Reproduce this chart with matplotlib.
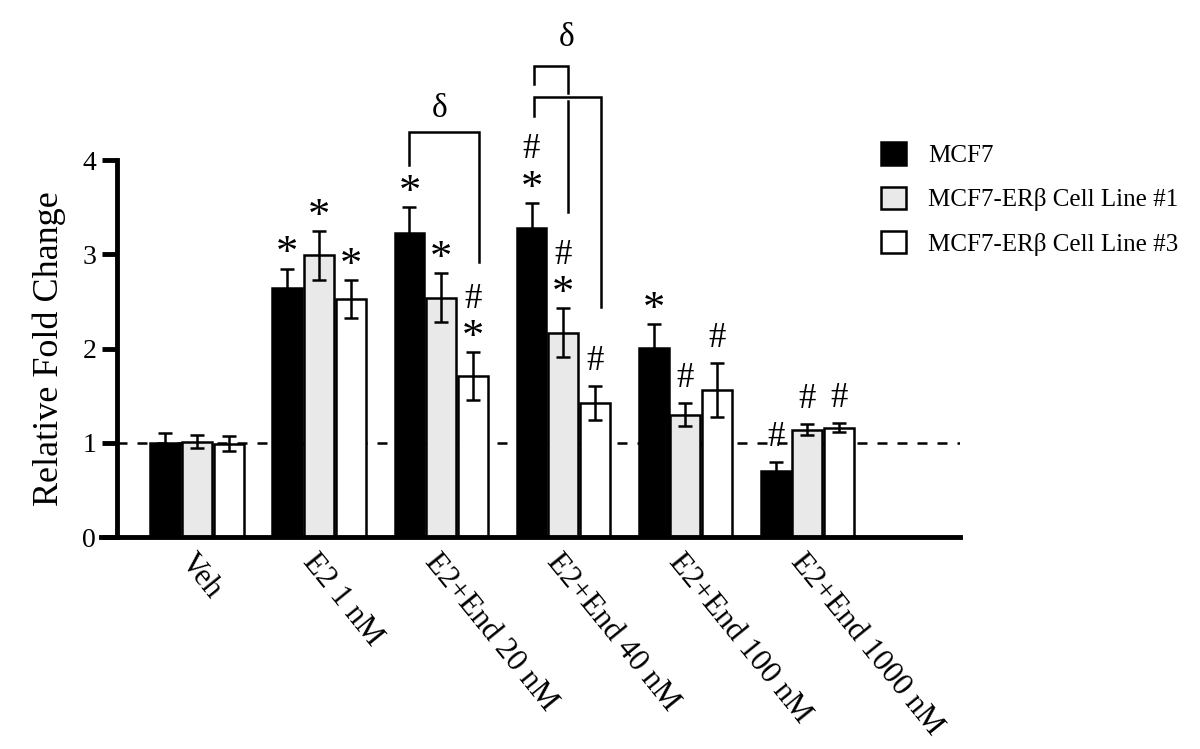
import numpy as np
import matplotlib
matplotlib.use("Agg")
import matplotlib.pyplot as plt
import matplotlib.transforms as mtransforms

plt.rcParams['font.family'] = ['Liberation Serif', 'DejaVu Serif']

# data
groups = ['Veh', 'E2 1 nM', 'E2+End 20 nM', 'E2+End 40 nM', 'E2+End 100 nM', 'E2+End 1000 nM']
series = ['MCF7', 'MCF7-ER\u03b2 Cell Line #1', 'MCF7-ER\u03b2 Cell Line #3']
mcf7 = [1.00, 2.64, 3.23, 3.28, 2.01, 0.70]
mcf7_err = [0.10, 0.21, 0.27, 0.27, 0.25, 0.10]
line1 = [1.01, 2.99, 2.54, 2.17, 1.30, 1.14]
line1_err = [0.07, 0.26, 0.26, 0.26, 0.12, 0.06]
line3 = [0.99, 2.53, 1.71, 1.42, 1.56, 1.16]
line3_err = [0.08, 0.20, 0.25, 0.18, 0.29, 0.05]
# significance marks, listed bottom to top
mcf7_marks = ['', '*', '*', '*#', '*', '#']
line1_marks = ['', '*', '*', '*#', '#', '#']
line3_marks = ['', '*', '*#', '#', '#', '#']

values = [mcf7, line1, line3]
errors = [mcf7_err, line1_err, line3_err]
marks = [mcf7_marks, line1_marks, line3_marks]
faces = ['black', '#e9e9e9', 'white']
offsets = [-0.26, 0, 0.26]
w = 0.245

fig = plt.figure(figsize=(12, 7.49), dpi=100)
ax = fig.add_axes([0.0975, 0.283, 0.7025, 0.503])

x = np.arange(len(groups))
for i in range(3):
    ax.bar(x + offsets[i], values[i], w, color=faces[i], edgecolor='black',
           linewidth=1.8, label=series[i], zorder=2)
    ax.errorbar(x + offsets[i], values[i], yerr=errors[i], fmt='none',
                ecolor='black', elinewidth=1.8, capsize=5, capthick=1.8, zorder=3)
    for j in range(len(groups)):
        ytop = values[i][j] + errors[i][j]
        for k, m in enumerate(marks[i][j]):
            if m == '*':
                ax.text(x[j] + offsets[i], ytop + 0.15 + 0.3 * k, m, ha='center',
                        va='center', fontsize=32, clip_on=False)
            else:
                ax.text(x[j] + offsets[i], ytop + 0.26 + 0.3 * k, m, ha='center',
                        va='center', fontsize=25, clip_on=False)

ax.axhline(1, color='black', linestyle=(0, (4, 4)), linewidth=1.8, zorder=1)

# brackets (x1, x2, top, left bottom, right bottom)
def bracket(x1, x2, top, yl, yr, lw=1.8):
    ax.plot([x1, x1, x2, x2], [yl, top, top, yr], color='black', lw=lw,
            clip_on=False, solid_joinstyle='miter')

bracket(1.74, 2.31, 4.30, 3.95, 2.92)
ax.text(1.99, 4.55, '\u03b4', ha='center', va='center', fontsize=24)
# 40 nM: black vs white, black vs #1
bracket(2.76, 3.31, 4.67, 4.47, 2.44)
ax.plot([2.76, 2.76, 3.04, 3.04], [4.81, 5.0, 5.0, 4.71], color='black', lw=1.8,
        clip_on=False, solid_joinstyle='miter')
ax.plot([3.04, 3.04], [4.63, 3.45], color='black', lw=1.8, clip_on=False)
ax.text(3.03, 5.3, '\u03b4', ha='center', va='center', fontsize=24, clip_on=False)

ax.set_xlim(-0.656, 6.25)
ax.set_ylim(0, 4)
ax.set_yticks([0, 1, 2, 3, 4])
ax.set_xticks(x)
ax.set_xticklabels(groups, rotation=-51, ha='left', va='top', rotation_mode='anchor',
                   fontsize=22.5)
off = mtransforms.ScaledTranslation(-0.17, -0.02, fig.dpi_scale_trans)
for lab in ax.get_xticklabels():
    lab.set_transform(lab.get_transform() + off)
ax.tick_params(axis='x', length=0, pad=8)
ax.tick_params(axis='y', length=11, width=3.5, labelsize=20, pad=4)
ax.set_ylabel('Relative Fold Change', fontsize=26, labelpad=12)

for s in ['top', 'right']:
    ax.spines[s].set_visible(False)
for s in ['left', 'bottom']:
    ax.spines[s].set_linewidth(3.5)
ax.spines['bottom'].set_bounds(-0.79, 6.25)

ax.legend(loc='upper left', bbox_to_anchor=(0.715, 0.84), bbox_transform=fig.transFigure,
          frameon=False, fontsize=18, handlelength=1.0, handleheight=1.0,
          handletextpad=0.9, labelspacing=0.78)

fig.savefig('out.png', dpi=100)
